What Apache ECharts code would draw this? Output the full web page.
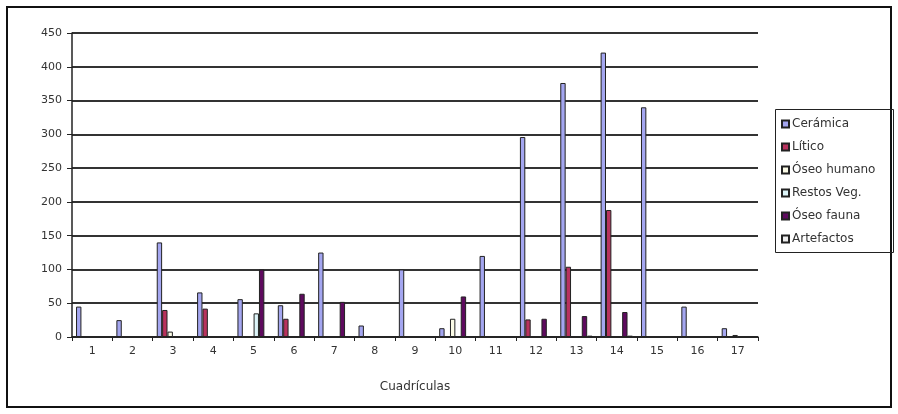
<!DOCTYPE html>
<html>
<head>
<meta charset="utf-8">
<script src="https://cdn.jsdelivr.net/npm/echarts@6/dist/echarts.min.js"></script>
<style>html,body{margin:0;padding:0;background:#fff}#c{width:898px;height:414px}</style>
</head>
<body>
<div id="c"></div>
<script>
var categories = ['1','2','3','4','5','6','7','8','9','10','11','12','13','14','15','16','17'];
var ceramica   = [45, 25, 140, 66, 56, 47, 125, 17, 100, 13, 120, 296, 376, 421, 340, 45, 13];
var litico     = [null, null, 40, 42, null, 27, null, null, null, null, null, 26, 104, 188, null, null, null];
var oseoHumano = [null, null, 8, null, null, null, null, null, null, 27, null, null, null, null, null, null, 3];
var restosVeg  = [null, null, null, null, 35, null, null, null, null, null, null, null, null, null, null, null, null];
var oseoFauna  = [null, null, null, null, 100, 64, 52, null, null, 60, null, 27, 31, 37, null, null, null];
var artefactos = [null, null, null, null, null, null, null, null, null, null, null, null, 2, 2, null, null, null];
var yTicks = {min: 0, max: 450, interval: 50};

var seriesNames = ['Cerámica', 'Lítico', 'Óseo humano', 'Restos Veg.', 'Óseo fauna', 'Artefactos'];
var seriesData = [ceramica, litico, oseoHumano, restosVeg, oseoFauna, artefactos];
var colors = ['#a4a6f0', '#b8325e', '#fbfbe6', '#dcf4f8', '#5e0a5e', '#eeeeee'];

var chart = echarts.init(document.getElementById('c'));
var font = 'DejaVu Sans, Arial, sans-serif';
chart.setOption({
  animation: false,
  backgroundColor: '#fff',
  textStyle: {fontFamily: font},
  grid: {left: 72, top: 33, right: 140, bottom: 77, containLabel: false},
  legend: {
    orient: 'vertical', left: 776, top: 113,
    itemWidth: 7, itemHeight: 7, itemGap: 11,
    icon: 'rect',
    textStyle: {fontSize: 12, color: '#333', fontFamily: font, padding: [0,0,0,-2]},
    data: seriesNames
  },
  xAxis: {
    type: 'category', data: categories,
    axisLine: {lineStyle: {color: '#222', width: 1.5}},
    axisTick: {show: true, length: 4, lineStyle: {color: '#222'}},
    axisLabel: {fontSize: 11, color: '#333', margin: 9},
    name: 'Cuadrículas', nameLocation: 'middle', nameGap: 44,
    nameTextStyle: {fontSize: 12, color: '#333'}
  },
  yAxis: {
    type: 'value', min: yTicks.min, max: yTicks.max, interval: yTicks.interval,
    axisLine: {show: true, lineStyle: {color: '#222', width: 1.5}},
    axisTick: {show: true, length: 5, lineStyle: {color: '#222'}},
    axisLabel: {fontSize: 11, color: '#333', margin: 10},
    splitLine: {lineStyle: {color: '#333', width: 2}}
  },
  series: seriesNames.map(function (n, i) {
    return {
      name: n, type: 'bar', data: seriesData[i],
      barGap: '0%', barCategoryGap: '20%',
      itemStyle: {color: colors[i], borderColor: '#222', borderWidth: 1}
    };
  }),
  graphic: [
    {type: 'rect', shape: {x: 7, y: 7, width: 884, height: 400}, style: {fill: null, stroke: '#111', lineWidth: 2}, silent: true},
    {type: 'rect', shape: {x: 775.5, y: 109.5, width: 118, height: 143}, style: {fill: null, stroke: '#222', lineWidth: 1}, silent: true}
  ]
});
</script>
</body>
</html>
